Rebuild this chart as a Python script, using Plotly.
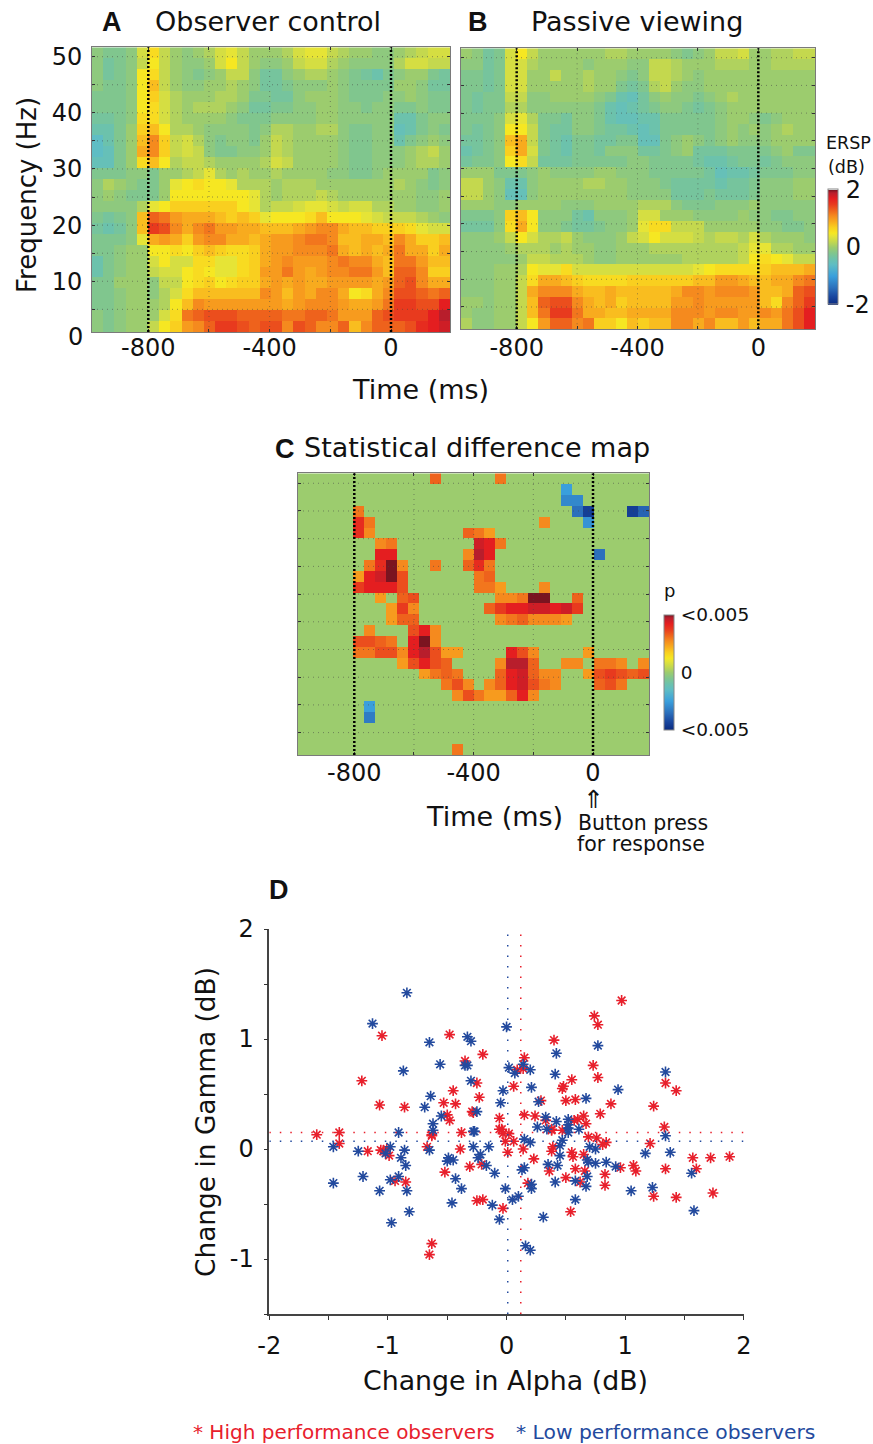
import numpy as np
import plotly.graph_objects as go

W, H = 873, 1444
FONT = "DejaVu Sans"
BOLD = "Liberation Sans"

# ---- panel A: ERSP in tenths of dB, rows top (high frequency) to bottom
ERSP_A = [
 [-1,-2,-2,-1,3,6,2,0,-1,0,1,3,4,2,0,0,0,1,3,4,4,2,1,0,0,-1,-1,0,1,2,3,3],
 [-1,-3,-2,-1,2,5,2,0,-1,-1,0,3,5,2,0,-1,-1,0,2,3,3,1,0,-1,-1,-1,-1,1,3,3,2,2],
 [-1,-3,-2,-1,5,6,2,0,-1,-2,-1,0,2,2,-1,-3,-3,-1,0,1,1,0,-1,-2,-3,-4,-2,-1,0,0,-2,-3],
 [-1,-2,-2,-1,5,8,2,0,-1,-1,0,0,1,0,-1,-3,-3,-2,-1,-1,-1,0,-1,-2,-2,-2,-2,0,0,-1,-3,-3],
 [-2,-2,-2,-1,5,7,3,1,0,0,0,1,1,0,-2,-2,-3,-3,-1,0,0,0,-1,-2,-2,-2,-1,-1,0,-1,-2,-2],
 [-2,-2,-2,-1,5,6,3,1,0,1,1,1,0,-1,-3,-3,-2,-2,-1,-1,0,0,-1,-1,-2,-1,-1,-2,-2,-1,-2,-2],
 [-3,-3,-2,-1,6,6,3,1,0,0,0,0,-1,-2,-2,-2,-1,-1,-1,-1,0,0,-1,-1,-1,-1,-1,-4,-4,-2,-1,-1],
 [-4,-4,-2,0,7,8,5,1,1,0,-1,-1,-1,-1,-2,-1,1,1,0,0,1,1,-1,-2,-2,-1,-1,-5,-4,-2,-1,-2],
 [-6,-4,-2,0,8,11,7,2,3,1,-1,-2,-1,-1,-2,0,2,1,0,0,0,0,-1,-2,-2,-1,-1,-4,-2,-1,0,-1],
 [-6,-5,-2,0,9,11,7,2,3,2,-1,-2,-2,-1,-1,0,2,1,0,0,0,0,-1,-2,-2,-1,-1,-1,0,1,2,0],
 [-5,-5,-2,0,6,8,5,1,2,2,1,0,0,0,0,1,3,2,0,0,0,0,-1,-2,-2,-1,-1,-1,0,1,1,0],
 [-2,-2,-2,-1,-1,-2,0,0,1,2,4,1,0,1,0,0,1,0,0,0,0,-1,-1,-2,-2,-1,0,0,0,0,-2,-1],
 [-1,1,0,-1,-2,-2,0,4,5,6,5,5,4,1,1,1,0,1,1,1,0,0,0,0,0,0,0,1,0,-1,-2,-1],
 [-1,0,-1,-2,-2,-2,0,5,5,5,5,5,5,5,4,1,0,1,1,1,2,1,0,0,0,0,0,0,0,-1,-1,0],
 [-1,-1,-1,-1,1,4,5,7,7,7,7,7,7,5,4,1,2,2,3,4,4,3,2,3,3,1,1,0,0,-1,-1,0],
 [-2,-3,-2,-1,8,13,12,10,9,9,9,8,7,8,7,4,5,5,5,6,8,5,5,5,4,3,2,2,2,1,0,-1],
 [-3,-4,-3,-1,8,15,14,11,9,11,12,10,10,9,9,8,8,8,9,10,11,11,9,8,8,7,7,7,6,4,3,3],
 [-2,-2,-2,-1,4,9,10,9,7,10,11,11,9,9,8,9,10,10,11,12,12,11,8,8,9,9,8,11,9,7,7,8],
 [-2,-2,-1,0,0,5,5,6,5,7,8,7,6,6,7,9,10,10,11,11,11,12,9,8,9,8,9,12,9,9,7,9],
 [-4,-2,-1,0,0,3,5,3,3,6,6,4,4,6,7,9,10,11,10,10,10,11,12,11,11,9,8,12,12,10,8,8],
 [-4,-2,-1,0,0,2,3,3,5,6,5,4,4,6,7,10,10,12,10,9,10,11,11,12,12,10,8,13,13,11,7,7],
 [-2,-2,0,0,0,-1,2,2,5,6,7,5,6,7,7,9,10,9,10,9,9,10,10,10,10,9,10,13,14,11,9,9],
 [-2,-2,-1,0,0,-1,1,3,6,8,8,8,8,8,8,11,10,8,10,9,11,11,9,5,6,9,11,14,14,13,12,13],
 [-2,-2,-1,0,0,0,1,5,8,11,10,10,10,10,10,10,10,9,10,11,11,11,10,9,9,10,12,15,15,14,14,17],
 [-1,-2,-1,0,0,0,3,6,12,13,14,14,14,13,13,13,13,12,12,13,13,12,10,10,10,13,14,15,15,15,17,19],
 [-1,-2,-1,0,0,2,5,7,10,11,13,15,15,14,13,14,14,11,14,13,11,11,13,8,11,13,13,13,14,16,17,18],
]

# ---- panel B
ERSP_B = [
 [0,-1,-3,-2,3,5,2,0,0,0,0,0,0,1,1,0,0,0,0,-1,-2,-1,0,2,2,3,0,0,1,1,2,2],
 [-1,-1,-3,-2,3,3,1,0,0,0,0,-1,0,0,0,-1,-1,2,2,1,0,0,0,1,1,1,0,0,1,1,1,1],
 [-2,-2,-3,-2,3,3,0,0,2,0,0,1,0,0,-1,-2,-1,2,2,1,0,-1,0,0,0,0,0,0,0,0,0,0],
 [-2,-2,-3,-2,3,3,0,0,0,0,0,1,0,0,-2,-3,-2,1,2,0,-1,-1,0,0,0,0,0,0,0,0,0,0],
 [-2,-3,-2,-2,2,2,-1,-1,0,0,0,0,-1,-2,-4,-5,-3,-1,0,-1,-1,-2,-1,0,1,0,0,0,0,0,0,0],
 [-2,-3,-2,-2,1,1,-1,-1,-1,-1,-1,-1,-2,-4,-5,-4,-3,-2,-1,-1,-2,-3,-2,-1,0,0,0,0,0,0,0,0],
 [-2,-2,-2,-1,3,4,1,-2,-2,-3,-1,-1,-2,-4,-5,-5,-4,-4,-2,-2,-2,-2,-2,-1,0,0,-1,-2,-1,0,0,0],
 [-2,-3,-2,-1,5,5,2,-2,-3,-3,-1,-1,-2,-3,-3,-4,-5,-4,-2,-2,-2,-2,-2,-1,0,-1,0,-1,0,1,0,0],
 [-3,-3,-2,-1,8,9,2,-2,-3,-4,-2,-2,-3,-3,-2,-2,-5,-5,-2,-1,0,-1,-2,-1,0,-1,-1,-1,0,0,0,0],
 [-4,-3,-2,-1,7,9,3,-2,-3,-4,-2,-2,-3,-1,-1,-1,-3,-3,-2,-1,0,-3,-3,-3,-2,-2,-2,-2,-1,0,-2,-2],
 [-3,-2,-2,-1,5,6,2,-3,-3,-3,-2,-2,-2,-2,-2,-1,-1,-2,-2,-2,-2,-3,-4,-4,-3,-2,-2,-3,-2,-1,-1,-1],
 [0,0,0,-2,-2,-2,-1,0,-1,-1,-1,-1,0,0,-1,-1,-1,-2,-2,-2,-2,-2,-3,-5,-4,-4,-3,-2,-2,-2,-1,-1],
 [2,2,0,-1,-4,-4,-1,0,0,0,0,1,1,0,0,-1,-1,-1,-2,-3,-3,-3,-3,-4,-3,-3,-2,-1,-1,-1,0,0],
 [2,2,0,-1,-5,-5,-1,0,0,0,0,0,0,0,0,-1,-1,-1,-1,-3,-3,-3,-2,-3,-3,-3,-2,-1,-1,-1,0,0],
 [0,0,0,-1,-1,0,0,0,0,-1,-1,-1,0,0,0,0,1,1,1,-1,-2,-2,-2,-1,-1,-1,0,-1,-1,-1,-1,-1],
 [-2,-2,-2,-1,7,8,5,-1,-1,-1,-3,-4,-1,-1,-1,0,3,3,0,0,0,-1,-1,-1,-1,0,-1,-1,-2,-2,-1,-1],
 [-3,-3,-3,-1,6,9,5,-1,-1,-2,-3,-3,-2,-1,-1,0,4,6,6,2,2,2,0,0,0,0,0,-1,-1,-2,-2,-1],
 [-1,-1,-1,0,2,5,3,1,1,2,0,-1,-1,-1,0,2,3,5,3,3,3,2,1,2,2,1,3,1,0,0,0,-1],
 [-1,-1,-1,-1,0,1,1,1,0,1,0,0,-1,-1,0,0,0,1,1,1,1,1,1,1,1,2,4,4,1,1,0,0],
 [-1,-1,-1,-1,-1,0,2,2,1,1,1,0,-1,-1,0,0,0,0,0,0,1,1,1,1,1,2,5,6,5,4,2,2],
 [-1,-1,-1,0,0,1,5,4,4,6,3,3,3,3,3,3,3,3,3,3,3,4,5,6,6,6,6,7,8,8,8,9],
 [-1,-1,-1,0,0,2,6,9,9,8,7,6,6,6,6,7,7,7,7,7,7,8,8,10,10,9,8,8,9,9,11,12],
 [-1,-1,-1,0,0,2,9,11,11,11,9,8,8,9,8,8,8,8,8,9,11,11,10,11,11,11,10,8,8,9,13,14],
 [0,0,-1,0,0,2,8,13,14,14,11,9,8,9,7,8,8,8,8,10,10,11,10,10,10,10,10,8,6,11,13,15],
 [0,-1,-1,0,0,2,8,12,15,15,12,9,9,8,8,9,9,9,9,11,11,11,10,11,11,10,10,11,10,12,14,17],
 [1,-1,-1,0,0,2,5,10,13,13,11,12,7,7,5,8,7,8,8,11,11,9,11,8,8,10,8,9,9,12,14,17],
]

# ---- panel C: significant cells per row, as (column, level)
DIFF_C = {
 0: [(12,13),(18,12)],
 1: [(24,-10)],
 2: [(24,-12),(25,-12)],
 3: [(5,12),(25,-14),(26,-18),(30,-18),(31,-15)],
 4: [(5,16),(6,12),(22,11),(26,-11)],
 5: [(5,16),(6,11),(15,13),(16,12),(17,10)],
 6: [(7,11),(8,12),(16,18),(17,17),(18,12)],
 7: [(7,17),(8,17),(15,11),(16,19),(17,17),(27,-14)],
 8: [(6,12),(7,16),(8,20),(9,11),(12,12),(15,13),(16,16),(17,12)],
 9: [(5,10),(6,17),(7,18),(8,20),(9,14),(16,12),(17,13)],
 10: [(5,15),(6,17),(7,17),(8,17),(9,14),(16,12),(17,12),(18,10),(22,11)],
 11: [(7,10),(9,13),(10,14),(18,11),(19,11),(20,12),(21,20),(22,20),(25,13)],
 12: [(8,10),(9,15),(10,11),(17,13),(18,15),(19,17),(20,17),(21,18),(22,18),(23,17),(24,18),(25,15)],
 13: [(8,10),(9,13),(10,13),(18,11),(19,12),(20,13),(21,11),(22,11),(23,11),(24,10)],
 14: [(6,11),(10,14),(11,17),(12,11)],
 15: [(5,14),(6,14),(7,13),(8,12),(10,17),(11,20),(12,11)],
 16: [(5,12),(6,12),(7,14),(8,14),(9,11),(10,17),(11,19),(12,14),(13,10),(14,10),(19,17),(20,14),(21,11),(26,10)],
 17: [(9,10),(10,14),(11,17),(12,14),(13,13),(18,11),(19,19),(20,19),(21,13),(24,11),(25,11),(27,12),(28,12),(29,11),(31,11)],
 18: [(11,10),(12,12),(13,13),(14,12),(18,13),(19,17),(20,18),(21,13),(22,11),(23,11),(26,10),(27,14),(28,15),(29,14),(30,13),(31,14)],
 19: [(13,12),(14,14),(15,11),(17,11),(18,13),(19,17),(20,18),(21,14),(22,12),(23,11),(27,13),(28,14),(29,12)],
 20: [(14,11),(15,14),(16,12),(17,10),(18,10),(19,13),(20,17),(21,11)],
 21: [(6,-10)],
 22: [(6,-13)],
 25: [(14,12)],
}

# ---- panel D: change in alpha / gamma (dB)
HIGH_ALPHA = [-1.05,-0.48,-1.22,-0.20,-0.35,-0.25,-0.45,-0.23,-1.07,-0.86,-0.53,-0.43,-0.29,-0.28,-0.50,-0.48,-0.06,-0.06,
 0.97,0.74,0.77,0.40,0.15,0.73,0.09,0.14,0.77,0.55,0.48,0.47,0.06,1.34,1.43,0.29,0.50,0.58,0.88,1.24,0.79,0.15,0.24,0.33,0.65,0.60,0.57,0.67,1.33,0.38,-0.04,0.38,
 -1.60,-1.41,-1.41,-1.17,-1.06,-1.04,-1.01,-0.99,-0.67,-0.63,-0.63,-0.38,-0.39,-0.31,-0.21,-0.52,-0.94,-0.85,-0.25,-0.20,-0.63,-0.65,
 0.02,-0.03,-0.01,0.06,0.47,0.69,0.76,0.84,0.81,1.21,0.39,0.38,0.14,0.01,0.23,0.55,0.56,0.65,1.57,1.72,1.88,1.60,1.34,1.07,1.09,0.96,0.83,0.58,0.66,0.36,0.50,0.62,0.18,0.83,1.24,1.43,1.74,-0.03,0.54]
HIGH_GAMMA = [1.03,1.04,0.62,0.86,0.80,0.60,0.53,0.47,0.40,0.38,0.42,0.41,0.34,0.33,0.31,0.26,0.28,0.18,
 1.35,1.21,1.13,0.99,0.83,0.76,0.72,0.73,0.65,0.63,0.57,0.55,0.57,0.60,0.53,0.44,0.44,0.45,0.41,0.39,0.32,0.31,0.30,0.26,0.30,0.27,0.26,0.23,0.20,0.18,0.18,0.17,
 0.13,0.15,0.05,-0.02,-0.01,-0.02,0.00,-0.06,0.02,0.13,0.12,0.15,0.00,-0.16,-0.14,-0.21,-0.29,-0.30,-0.47,-0.46,-0.86,-0.96,
 0.14,0.14,0.07,0.07,0.17,0.11,0.10,0.06,0.04,0.05,0.02,-0.02,0.00,-0.03,-0.09,-0.03,-0.07,-0.05,-0.08,-0.08,-0.07,-0.18,-0.18,-0.15,-0.20,-0.17,-0.23,-0.18,-0.20,-0.20,-0.26,-0.30,-0.31,-0.33,-0.43,-0.44,-0.40,-0.54,-0.57]
LOW_ALPHA = [-0.84,-1.13,-0.65,-0.33,-0.30,-0.87,-0.56,-0.35,-0.33,-0.30,-0.64,-0.69,-0.55,-0.25,-0.62,-0.62,
 0.00,0.77,0.42,0.02,0.14,0.20,0.07,0.41,1.34,-0.03,0.21,0.94,0.67,0.27,-0.05,0.33,0.42,0.52,0.26,0.52,0.61,0.52,0.34,
 -0.91,-0.28,-0.27,-1.46,-1.25,-0.98,-0.86,-1.02,-0.89,-0.65,-0.28,-0.15,-0.22,-0.24,-0.49,-0.50,-0.45,-0.85,-0.17,-0.10,-1.21,-0.91,-0.98,-1.46,-0.43,-1.07,-0.84,-0.38,-0.46,-0.12,-0.82,-0.97,-0.06,
 1.34,0.52,0.15,0.20,0.47,0.45,0.70,0.75,1.17,1.38,0.45,0.68,0.69,0.75,0.84,0.92,0.35,0.43,0.15,0.13,0.68,1.56,0.41,0.58,0.67,0.21,0.21,-0.01,1.05,1.23,0.10,0.05,0.58,1.58,0.31,0.16,0.20]
LOW_GAMMA = [1.42,1.14,0.97,1.02,0.98,0.71,0.77,0.76,0.76,0.62,0.48,0.38,0.30,0.34,0.23,0.17,
 1.11,0.94,0.87,0.74,0.77,0.72,0.69,0.68,0.70,0.53,0.56,0.54,0.46,0.43,0.42,0.29,0.25,0.27,0.20,0.22,0.18,0.19,0.18,
 0.15,0.16,0.16,0.02,-0.02,0.02,-0.01,-0.04,-0.08,-0.01,0.02,0.02,-0.05,-0.08,-0.08,-0.11,-0.10,-0.15,-0.15,-0.22,-0.25,-0.25,-0.28,-0.31,-0.27,-0.38,-0.38,-0.36,-0.49,-0.51,-0.57,-0.67,-0.64,
 0.12,0.15,0.09,0.06,0.08,0.03,0.02,0.00,-0.04,-0.03,-0.06,-0.10,-0.12,-0.13,-0.12,-0.16,-0.14,-0.15,-0.17,-0.19,-0.25,-0.22,-0.30,-0.29,-0.34,-0.32,-0.36,-0.36,-0.38,-0.35,-0.43,-0.46,-0.46,-0.56,-0.62,-0.88,-0.92]
HIGH_MEAN = (0.12, 0.15)
LOW_MEAN = (0.01, 0.07)

TIME_TICKS = [-800, -600, -400, -200, 0]
TIME_LABELS = ["-800", "", "-400", "", "0"]
FREQ_TICKS = [5, 10, 15, 20, 25, 30, 35, 40, 45, 50]
FREQ_LABELS = ["", "10", "", "20", "", "30", "", "40", "", "50"]
ALPHA_TICKS = [-2, -1.5, -1, -0.5, 0, 0.5, 1, 1.5, 2]
ALPHA_LABELS = ["-2", "", "-1", "", "0", "", "1", "", "2"]
GAMMA_TICKS = [-1.5, -1, -0.5, 0, 0.5, 1, 1.5, 2]
GAMMA_LABELS = ["", "-1", "", "0", "", "1", "", "2"]

# colormap stops: (level in tenths of a dB, colour)
CMAP = [(-20,"#0a2a80"),(-17,"#1a48a0"),(-14,"#2c70bc"),(-10,"#3a9fdc"),(-6,"#5fbdc4"),(-4,"#6cc2ac"),(-2,"#80c68e"),
        (0,"#9ccc6e"),(2,"#c4d84e"),(4,"#e6e436"),(5,"#f6e722"),(7,"#f9cf1f"),(9,"#f8ab1e"),(11,"#f58a1e"),
        (13,"#ee621c"),(15,"#e83a1e"),(17,"#e41e20"),(19,"#b81e2c"),(20,"#7a1420")]
COLORSCALE = [[(v + 20) / 40, c] for v, c in CMAP]

for r in ERSP_A + ERSP_B:
    assert len(r) == 32, r
assert len(ERSP_A) == 26 and len(ERSP_B) == 26
assert len(HIGH_ALPHA) == len(HIGH_GAMMA), (len(HIGH_ALPHA), len(HIGH_GAMMA))
assert len(LOW_ALPHA) == len(LOW_GAMMA), (len(LOW_ALPHA), len(LOW_GAMMA))

z_c = np.zeros((26, 32))
for row, cells in DIFF_C.items():
    for col, level in cells:
        z_c[row, col] = level


def xd(a, b):
    return [a / W, b / W]


def yd(top, bottom):
    return [1 - bottom / H, 1 - top / H]


def centres(lo, hi, n):
    e = np.linspace(lo, hi, n + 1)
    return (e[:-1] + e[1:]) / 2


fig = go.Figure()
PANELS = [
    ("x", "y", ERSP_A, "coloraxis", (-985.6, 194.5), (0.96, 51.67), (92, 450), (47.3, 332), -6),
    ("x2", "y2", ERSP_B, "coloraxis", (-984.4, 187.7), (0.97, 51.7), (461, 815), (48.3, 329.3), -3),
    ("x3", "y3", z_c, "coloraxis2", (-988.7, 188.7), (0.96, 51.8), (298, 649.3), (473.3, 755), -4),
]
layout = {}
shapes = []
GRID = dict(color="rgba(70,70,70,0.55)", width=1, dash="1px,4px")
TICKFONT = dict(family=FONT, size=24, color="#111111")
for i, (xa, ya, z, ca, xr, yr, xp, yp, standoff) in enumerate(PANELS):
    fig.add_trace(go.Heatmap(
        z=np.array(z) / 10.0,
        x=centres(xr[0], xr[1], 32),
        y=centres(yr[0], yr[1], 26)[::-1],
        coloraxis=ca, xaxis=xa, yaxis=ya, hoverinfo="skip", zsmooth=False))
    suf = "" if i == 0 else str(i + 1)
    layout["xaxis" + suf] = dict(
        domain=xd(*xp), range=list(xr), anchor="y" + suf, showgrid=False, zeroline=False,
        tickmode="array", tickvals=TIME_TICKS, ticktext=TIME_LABELS,
        ticks="inside", ticklen=3, tickcolor="#333333", mirror="ticks", showline=True,
        linecolor="#7a7a7a", linewidth=1, ticklabelstandoff=standoff, tickfont=TICKFONT)
    layout["yaxis" + suf] = dict(
        domain=yd(*yp), range=list(yr), anchor="x" + suf, showgrid=False, zeroline=False,
        tickmode="array", tickvals=FREQ_TICKS,
        ticktext=FREQ_LABELS if i == 0 else [""] * len(FREQ_TICKS),
        ticks="inside", ticklen=3, tickcolor="#333333", mirror="ticks", showline=True,
        linecolor="#7a7a7a", linewidth=1, ticklabelstandoff=4, tickfont=TICKFONT)
    for t in TIME_TICKS[1:-1]:
        shapes.append(dict(type="line", xref=xa, yref=ya, x0=t, x1=t, y0=yr[0], y1=yr[1], line=GRID, layer="above"))
    for f in FREQ_TICKS:
        shapes.append(dict(type="line", xref=xa, yref=ya, x0=xr[0], x1=xr[1], y0=f, y1=f, line=GRID, layer="above"))
    for t in (-800, 0):
        shapes.append(dict(type="line", xref=xa, yref=ya, x0=t, x1=t, y0=yr[0], y1=yr[1],
                           line=dict(color="black", width=2.5, dash="2px,2px"), layer="above"))

RED = "#e8202c"
BLUE = "#234a9e"
for name, xs, ys, col in (("High performance observers", HIGH_ALPHA, HIGH_GAMMA, RED),
                          ("Low performance observers", LOW_ALPHA, LOW_GAMMA, BLUE)):
    fig.add_trace(go.Scatter(
        x=xs, y=ys, mode="markers", name=name, xaxis="x4", yaxis="y4", showlegend=False, hoverinfo="skip",
        marker=dict(symbol="asterisk", size=9, color=col, line=dict(color=col, width=1.6))))

layout["xaxis4"] = dict(domain=xd(269.3, 743.8), range=[-2, 2], anchor="y4", showgrid=False, zeroline=False,
                        tickmode="array", tickvals=ALPHA_TICKS, ticktext=ALPHA_LABELS,
                        ticks="outside", ticklen=4, tickcolor="#333333", showline=True, linecolor="#444444", linewidth=1.5,
                        ticklabelstandoff=5, tickfont=TICKFONT)
layout["yaxis4"] = dict(domain=yd(929, 1314), range=[-1.5, 2], anchor="x4", showgrid=False, zeroline=False,
                        tickmode="array", tickvals=GAMMA_TICKS, ticktext=GAMMA_LABELS,
                        ticks="outside", ticklen=4, tickcolor="#333333", showline=True, linecolor="#444444", linewidth=1.5,
                        ticklabelstandoff=5, tickfont=TICKFONT)
for (mx, my), col in ((HIGH_MEAN, RED), (LOW_MEAN, BLUE)):
    d = dict(color=col, width=1.5, dash="1.5px,9px")
    shapes.append(dict(type="line", xref="x4", yref="y4", x0=-2, x1=2, y0=my, y1=my, line=d))
    shapes.append(dict(type="line", xref="x4", yref="y4", x0=mx, x1=mx, y0=-1.5, y1=1.95, line=d))


def ann(text, px, py, size=24, color="#111111", anchor="center", angle=0, family=FONT):
    return dict(text=text, x=px / W, y=1 - py / H, xref="paper", yref="paper", xanchor=anchor, yanchor="middle",
                showarrow=False, textangle=angle, font=dict(family=family, size=size, color=color))


annotations = [
    ann("<b>A</b>", 112, 22, 27, family=BOLD), ann("<b>B</b>", 478, 22, 27, family=BOLD),
    ann("<b>C</b>", 285, 449, 27, family=BOLD), ann("<b>D</b>", 279, 890, 27, family=BOLD),
    ann("Observer control", 268, 21, 27), ann("Passive viewing", 637, 21, 27),
    ann("Statistical difference map", 477, 447, 27),
    ann("Frequency (Hz)", 27, 195, 26, angle=-90), ann("0", 75, 337, 24),
    ann("Time (ms)", 420, 390, 27), ann("Time (ms)", 494, 816, 27),
    ann("⇑", 593, 799, 25), ann("Button press", 643, 823, 20.5), ann("for response", 641, 844, 20.5),
    ann("ERSP", 848, 143, 17.5), ann("(dB)", 846, 167, 17.5), ann("p", 669, 590, 18),
    ann("Change in Gamma (dB)", 205, 1122, 26.4, angle=-90), ann("Change in Alpha (dB)", 505, 1380, 26.8),
    ann("* High performance observers", 344, 1432, 20, RED), ann("* Low performance observers", 665, 1432, 20.3, BLUE),
]

fig.update_layout(
    width=W, height=H, margin=dict(l=0, r=0, t=0, b=0, autoexpand=False), paper_bgcolor="white", plot_bgcolor="white",
    shapes=shapes, annotations=annotations, showlegend=False,
    coloraxis=dict(cmin=-2, cmax=2, colorscale=COLORSCALE, colorbar=dict(
        x=828 / W, xanchor="left", xpad=0, ypad=0, y=1 - 247 / H, yanchor="middle", lenmode="pixels", len=115,
        thicknessmode="pixels", thickness=10, outlinewidth=1, outlinecolor="#888888",
        tickmode="array", tickvals=[-2, 0, 2], ticktext=["-2", "0", "2"], ticks="outside", ticklen=3,
        tickcolor="rgba(0,0,0,0)", tickfont=dict(family=FONT, size=24, color="#111111"))),
    coloraxis2=dict(cmin=-2, cmax=2, colorscale=COLORSCALE, colorbar=dict(
        x=664 / W, xanchor="left", xpad=0, ypad=0, y=1 - 672.5 / H, yanchor="middle", lenmode="pixels", len=115,
        thicknessmode="pixels", thickness=10, outlinewidth=1, outlinecolor="#888888",
        tickmode="array", tickvals=[-2, 0, 2], ticktext=["<0.005", "0", "<0.005"], ticks="outside", ticklen=3,
        tickcolor="rgba(0,0,0,0)", tickfont=dict(family=FONT, size=18.5, color="#111111"))),
    **layout)

fig.write_html("out.html", config={"displayModeBar": False},
               post_script="document.body.style.margin='0';document.body.style.overflow='hidden';")
